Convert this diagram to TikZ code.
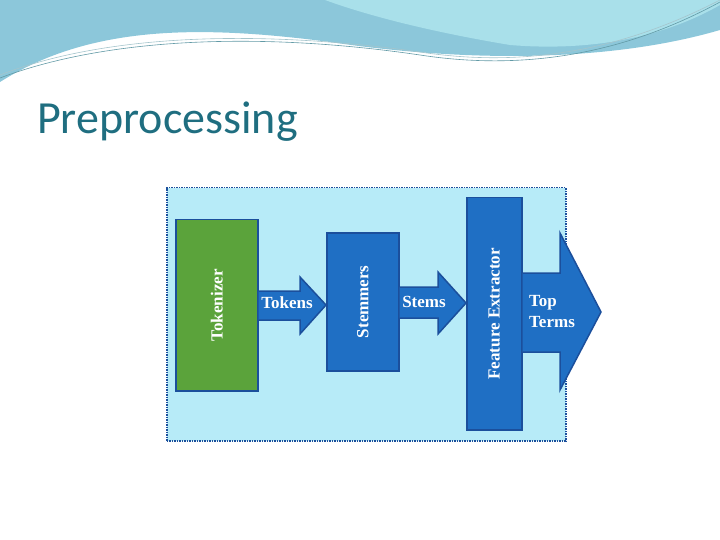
\documentclass[tikz,border=0pt]{standalone}
\usepackage{fontspec}
\setsansfont{Carlito}
\setmainfont{Liberation Serif}
\usetikzlibrary{positioning}
\definecolor{panel}{HTML}{B7EBF8}
\definecolor{edge}{HTML}{1B4F9C}
\definecolor{stage}{HTML}{1F6FC4}
\definecolor{leaf}{HTML}{5BA33B}
\definecolor{titlec}{HTML}{1F6E80}
\definecolor{wave}{HTML}{8CC7DA}
\definecolor{wavelt}{HTML}{A9E0EA}
\tikzset{
  block/.style={draw=edge,line width=1.5pt,fill=stage},
  vlbl/.style={rotate=90,text=white,font=\bfseries\fontsize{17}{19}\selectfont},
  flow/.style={draw=edge,line width=1.5pt,fill=stage,line join=miter},
  lbl/.style={text=white,font=\bfseries\fontsize{17}{21}\selectfont,align=left,inner sep=0pt}
}
\begin{document}
\begin{tikzpicture}[x=1pt,y=-1pt]
\useasboundingbox (0,0) rectangle (720,540);
% header waves
\fill[wave] (0,0) -- (720,0) -- (720,30) .. controls (600,65) and (450,60) .. (330,42)
  .. controls (200,25) and (90,25) .. (0,82) -- cycle;
\fill[wavelt] (325,0) -- (720,0) -- (720,5) .. controls (650,45) and (570,50) .. (510,45)
  .. controls (450,35) and (380,20) .. (325,0) -- cycle;
\draw[titlec!70,line width=0.6pt] (0,78) .. controls (100,40) and (250,30) .. (420,55)
  .. controls (550,75) and (650,40) .. (720,2);
\draw[titlec!40,line width=0.6pt] (0,75) .. controls (100,36) and (250,28) .. (420,52)
  .. controls (550,72) and (650,36) .. (720,0);
% title
\node[anchor=base west,text=titlec,font=\sffamily\fontsize{46}{46}\selectfont,inner sep=0pt]
  (title) at (37,134) {Preprocessing};
% panel
\node[draw=edge,densely dotted,line width=1.5pt,fill=panel,minimum width=399pt,
  minimum height=253pt,anchor=north west] (panel) at (166,187) {};
% stages
\node[block,fill=leaf,minimum width=82pt,minimum height=171pt,anchor=north west]
  (tok) at (175,219) {};
\node[vlbl] at (tok.center) {Tokenizer};
\node[block,minimum width=72pt,minimum height=138pt,anchor=north west]
  (stem) at (326,232) {};
\node[vlbl] at (stem.center) {Stemmers};
\node[block,minimum width=55pt,minimum height=232pt,anchor=north west]
  (feat) at (466,197) {};
\node[vlbl] at (feat.center) {Feature Extractor};
% connectors
\draw[flow] (tok.east |- 0,291) -- (300,291) -- (300,277) -- (stem.west |- 0,305)
  -- (300,334) -- (300,320) -- (tok.east |- 0,320);
\node[lbl] (tokens) at (287,303) {Tokens};
\draw[flow] (stem.east |- 0,287) -- (438,287) -- (438,272) -- (feat.west |- 0,303)
  -- (438,334) -- (438,318) -- (stem.east |- 0,318);
\node[lbl] (stems) at (424,302) {Stems};
\coordinate (out) at (601,312);
\draw[flow] (feat.east |- 0,273) -- (560,273) -- (560,233) -- (out)
  -- (560,390) -- (560,352) -- (feat.east |- 0,352);
\node[lbl,anchor=west] (top) at (529,312) {Top\\Terms};
\end{tikzpicture}
\end{document}
